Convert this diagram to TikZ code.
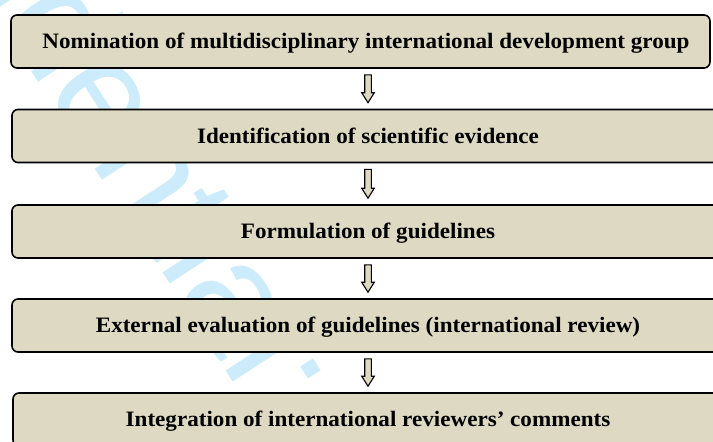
\documentclass[tikz,border=0pt]{standalone}
\usepackage{fontspec}
\setmainfont[FakeStretch=1.05]{Liberation Serif}
\newfontfamily\wmfont{Liberation Sans}
\usetikzlibrary{calc}
\definecolor{boxfill}{RGB}{221,217,195}
\definecolor{wmblue}{RGB}{204,236,251}
\newcommand\flowarrow[2]{%
  \path (#1.south -| ax) ++(0,6) coordinate (p1);
  \path (#2.north -| ax) ++(0,-6) coordinate (p2);
  \draw[arr] ($(p1)+(-3.3,0)$) -- ($(p2)+(-3.3,-10)$) -- ($(p2)+(-6.3,-10)$) -- (p2)
    -- ($(p2)+(6.3,-10)$) -- ($(p2)+(3.3,-10)$) -- ($(p1)+(3.3,0)$) -- cycle;}
\begin{document}
\begin{tikzpicture}[x=1pt,y=-1pt,
  box/.style={draw=black, line width=1.6pt, fill=boxfill, rounded corners=6pt,
    minimum height=53pt, inner sep=0pt},
  lbl/.style={font=\bfseries\fontsize{22}{25}\selectfont, anchor=base, inner sep=0pt},
  arr/.style={draw=black, line width=1.1pt, fill=boxfill, line join=miter},
  wm/.style={font=\wmfont\fontsize{150}{160}\selectfont, text=wmblue, rotate=-57, inner sep=0pt}]
\useasboundingbox (0,0) rectangle (713,442);
\begin{scope}
\clip (0,0) rectangle (713,442);
\fill[white] (0,0) rectangle (713,442);
% watermark
\node[wm, anchor=base east] (wm1) at (262,426) {Confidential:};
\coordinate (ax) at (368,0);
% boxes
\node[box, minimum width=699pt] (b1) at (360.5,41.5) {};
\node[box, minimum width=712pt] (b2) at (368,136) {};
\node[box, minimum width=712pt] (b3) at (368,231.5) {};
\node[box, minimum width=712pt] (b4) at (368,325.5) {};
\node[box, minimum width=712pt] (b5) at (369,419.5) {};
% labels
\node[lbl] (t1) at (366,48.5) {Nomination of multidisciplinary international development group};
\node[lbl] (t2) at (368,143) {Identification of scientific evidence};
\node[lbl] (t3) at (368,238.5) {Formulation of guidelines};
\node[lbl] (t4) at (368,332.5) {External evaluation of guidelines (international review)};
\node[lbl] (t5) at (368,426.5) {Integration of international reviewers’ comments};
% arrows
\flowarrow{b1}{b2}
\flowarrow{b2}{b3}
\flowarrow{b3}{b4}
\flowarrow{b4}{b5}
\end{scope}
\end{tikzpicture}
\end{document}
